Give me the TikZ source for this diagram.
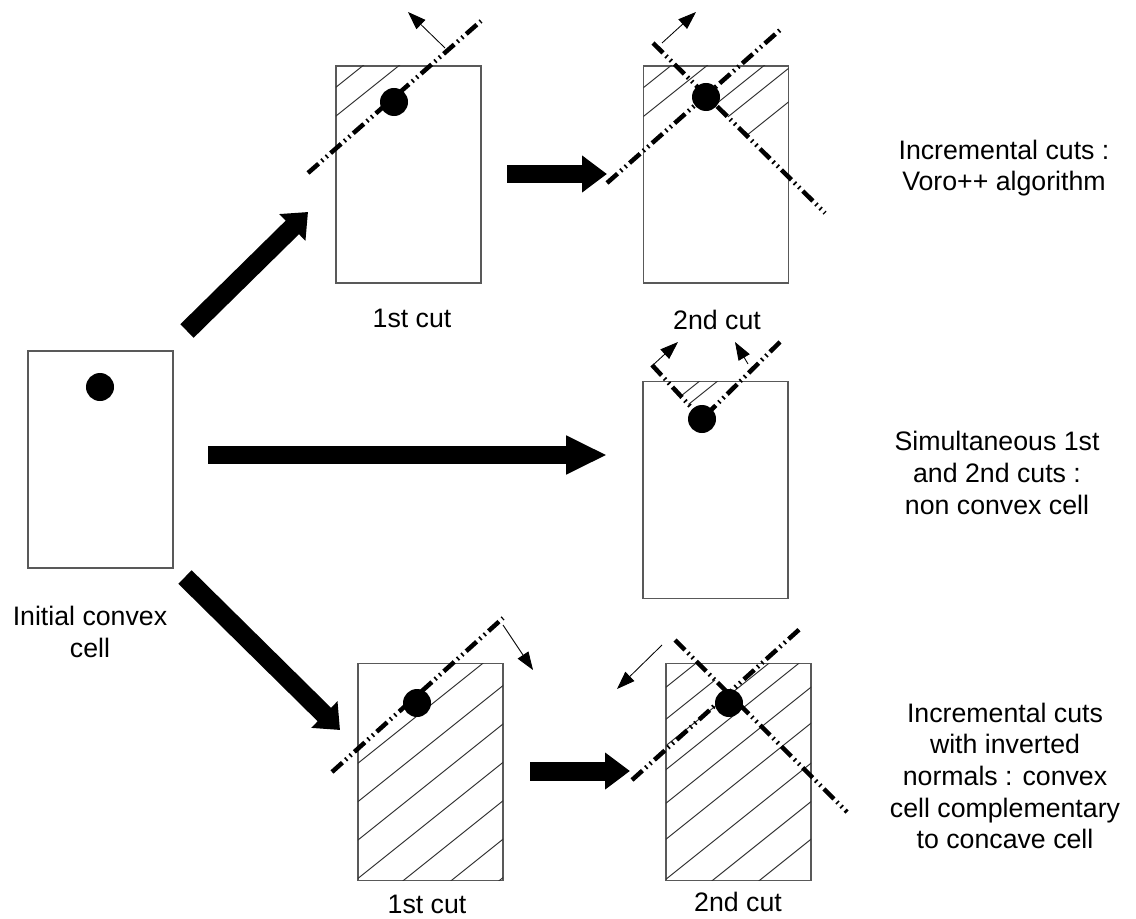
\documentclass[tikz,border=0pt]{standalone}
\usepackage{fontspec}
\setmainfont{Liberation Sans}
\usetikzlibrary{arrows.meta}

\tikzset{
	zelle/.style={draw=black!65, line width=0.9pt, outer sep=0pt, inner sep=0pt, minimum width=3.625cm, minimum height=5.425cm},
	punkt/.style={circle, fill=black, inner sep=0pt, minimum size=0.7cm},
	schnitt/.style={line width=3.2pt, dash pattern=on 10pt off 3pt on 1.2pt off 3pt on 1.2pt off 3pt},
	normale/.style={line width=0.6pt, -{Triangle[length=0.45cm,width=0.32cm]}},
	pfeil/.style={line width=13.5pt, -{Triangle[length=0.55cm,width=0.9cm]}},
	schraffur/.style={draw=black!80, line width=0.7pt},
	beschr/.style={font=\fontsize{19}{22.5}\selectfont, align=center}
}

\begin{document}
\begin{tikzpicture}[x=0.025cm, y=-0.025cm]
		\useasboundingbox (0,0) rectangle (1136,919);
		
		% Zellen
		\node[zelle] (start) at (100.5,459.5) {};
		\node[zelle] (o1) at (408.5,174.5) {};
		\node[zelle] (o2) at (716,174.5) {};
		\node[zelle] (m) at (715.5,490) {};
		\node[zelle] (u1) at (430.5,772) {};
		\node[zelle] (u2) at (738.5,772) {};
		
		% Schnittebenen
		\coordinate (o1a) at (308,173); \coordinate (o1b) at (481,21);
		\coordinate (o2a) at (607,183); \coordinate (o2b) at (780,30);
		\coordinate (o2c) at (653,43);  \coordinate (o2d) at (825,213);
		\coordinate (ma) at (652,365);  \coordinate (mb) at (780,342);
		\coordinate (mz) at (702,419);
		\coordinate (u1a) at (332,772); \coordinate (u1b) at (503,618);
		\coordinate (u2a) at (632,780); \coordinate (u2b) at (802,627);
		\coordinate (u2c) at (675,640); \coordinate (u2d) at (847,812);
		
		% Schraffur oben, 1. Schnitt
		\begin{scope}
			\clip (o1.south west) rectangle (o1.north east);
			\clip (o1a) -- (o1b) -- (481,0) -- (300,0) -- cycle;
			\foreach \c in {445,481}
			\draw[schraffur] (\c,0) -- ++(-1250,1000);
		\end{scope}
		
		% Schraffur oben, 2. Schnitt
		\begin{scope}
			\clip (o2.south west) rectangle (o2.north east);
			\clip (o2a) -- (intersection of o2a--o2b and o2c--o2d) -- (o2d) -- (900,0) -- (560,0) -- cycle;
			\foreach \c in {753,789,846,874,916}
			\draw[schraffur] (\c,0) -- ++(-1250,1000);
		\end{scope}
		
		% Schraffur Mitte
		\begin{scope}
			\clip (m.south west) rectangle (m.north east);
			\clip (ma) -- (mz) -- (mb) -- cycle;
			\foreach \c in {1176,1194}
			\draw[schraffur] (\c,0) -- ++(-1250,1000);
		\end{scope}
		
		% Schraffur unten, 1. Schnitt
		\begin{scope}
			\clip (u1.south west) rectangle (u1.north east);
			\clip (u1a) -- (u1b) -- (600,618) -- (600,950) -- (300,950) -- cycle;
			\foreach \c in {1312,1360,1408,1456,1504,1552,1600}
			\draw[schraffur] (\c,0) -- ++(-1250,1000);
		\end{scope}
		
		% Schraffur unten, 2. Schnitt
		\begin{scope}
			\clip (u2.south west) rectangle (u2.north east);
			\clip (u2c) -- (intersection of u2a--u2b and u2c--u2d) -- (u2b) -- (900,627) -- (900,950) -- (600,950) -- (600,640) -- cycle;
			\foreach \c in {1525,1565,1598,1628,1670,1715,1765,1813,1860}
			\draw[schraffur] (\c,0) -- ++(-1250,1000);
		\end{scope}
		
		\draw[schnitt] (o1a) -- (o1b);
		\draw[schnitt] (o2a) -- (o2b);
		\draw[schnitt] (o2c) -- (o2d);
		\draw[schnitt] (ma) -- (mz);
		\draw[schnitt] (mb) -- (mz);
		\draw[schnitt] (u1a) -- (u1b);
		\draw[schnitt] (u2a) -- (u2b);
		\draw[schnitt] (u2c) -- (u2d);
		
		% Normalen
		\coordinate (n1a) at (445,48);  \coordinate (n1b) at (408,12);
		\coordinate (n2a) at (662,43);  \coordinate (n2b) at (696,12);
		\coordinate (n3a) at (653,365); \coordinate (n3b) at (678,342);
		\coordinate (n4a) at (748,364); \coordinate (n4b) at (735,342);
		\coordinate (n5a) at (503,625); \coordinate (n5b) at (533,670);
		\coordinate (n6a) at (662,645); \coordinate (n6b) at (617,689);
		\draw[normale] (n1a) -- (n1b);
		\draw[normale] (n2a) -- (n2b);
		\draw[normale] (n3a) -- (n3b);
		\draw[normale] (n4a) -- (n4b);
		\draw[normale] (n5a) -- (n5b);
		\draw[normale] (n6a) -- (n6b);
		
		% Punkte
		\node[punkt] (p0) at (100,387) {};
		\node[punkt] (p1) at (394,102) {};
		\node[punkt] (p2) at (706,97) {};
		\node[punkt] (p3) at (mz) {};
		\node[punkt] (p4) at (417,703) {};
		\node[punkt] (p5) at (729,703) {};
		
		% Dicke Pfeile
		\coordinate (f1a) at (187,331); \coordinate (f1b) at (308,212);
		\coordinate (f2a) at (208,455); \coordinate (f2b) at (607,455);
		\coordinate (f3a) at (185,577); \coordinate (f3b) at (340,730);
		\coordinate (f4a) at (507,174); \coordinate (f4b) at (607,174);
		\coordinate (f5a) at (530,771); \coordinate (f5b) at (630,771);
		\draw[pfeil] (f1a) -- (f1b);
		\draw[pfeil, -{Triangle[length=1.02cm,width=0.9cm]}] (f2a) -- (f2b);
		\draw[pfeil] (f3a) -- (f3b);
		\draw[pfeil, -{Triangle[length=0.62cm,width=0.88cm]}] (f4a) -- (f4b);
		\draw[pfeil, -{Triangle[length=0.62cm,width=0.88cm]}] (f5a) -- (f5b);
		
		% Beschriftungen
		\node[beschr] (t0) at (90,632) {Initial convex\\cell};
		\node[beschr] (t1) at (412,318) {1st cut};
		\node[beschr] (t2) at (717,320) {2nd cut};
		\node[beschr] (t3) at (427,904) {1st cut};
		\node[beschr] (t4) at (738,902) {2nd cut};
		\node[beschr] (t5) at (1004,168) {Incremental cuts :\\Voro++ algorithm};
		\node[beschr] (t6) at (997,473) {Simultaneous 1st\\and 2nd cuts :\\non convex cell};
		\node[beschr] (t7) at (1005,776) {Incremental cuts\\with inverted\\normals : convex\\cell complementary\\to concave cell};
	\end{tikzpicture}
\end{document}
